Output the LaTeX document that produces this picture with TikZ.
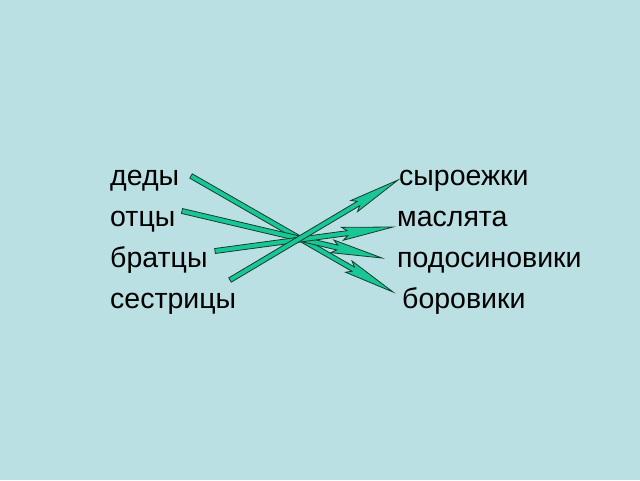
\documentclass[tikz,border=0pt]{standalone}
\usepackage{fontspec}
\setmainfont{Liberation Sans}
\usetikzlibrary{calc}
\definecolor{bgcol}{RGB}{187,224,227}
\definecolor{arrfill}{RGB}{24,198,150}
\definecolor{arrline}{RGB}{20,60,45}
\tikzset{
  word/.style={anchor=base west, inner sep=0pt, font=\fontsize{28.5}{32}\selectfont, text=black},
  blk/.style={fill=arrfill, draw=arrline, line width=0.8pt, line join=miter}
}
\newcommand\blkarrow[2]{%
  \filldraw[blk]
    ($(#1)!2.5pt!90:(#2)$) --
    ($(#2)!46pt!(#1)!2.5pt!90:(#2)$) --
    ($(#2)!51pt!(#1)!6.5pt!90:(#2)$) --
    (#2) --
    ($(#2)!51pt!(#1)!6.5pt!-90:(#2)$) --
    ($(#2)!46pt!(#1)!2.5pt!-90:(#2)$) --
    ($(#1)!2.5pt!-90:(#2)$) -- cycle;}
\begin{document}
\begin{tikzpicture}[x=1pt,y=-1pt]
  \fill[bgcol] (0,0) rectangle (640,480);
  \useasboundingbox (0,0) rectangle (640,480);
  % left words
  \node[word] (l1) at (110,185) {деды};
  \node[word] (l2) at (110,226) {отцы};
  \node[word] (l3) at (110,267) {братцы};
  \node[word] (l4) at (110,308) {сестрицы};
  % right words
  \node[word] (r1) at (399,185) {сыроежки};
  \node[word] (r2) at (397,226) {маслята};
  \node[word] (r3) at (397,267) {подосиновики};
  \node[word] (r4) at (402,308) {боровики};
  % arrow ends
  \coordinate (a1) at (191,176);
  \coordinate (b1) at (393,292);
  \coordinate (a2) at (182,211);
  \coordinate (b2) at (382,258);
  \coordinate (a3) at (215,251);
  \coordinate (b3) at (393,227);
  \coordinate (a4) at (230,280);
  \coordinate (b4) at (398,180);
  \blkarrow{a1}{b1}
  \blkarrow{a2}{b2}
  \blkarrow{a3}{b3}
  \blkarrow{a4}{b4}
\end{tikzpicture}
\end{document}
